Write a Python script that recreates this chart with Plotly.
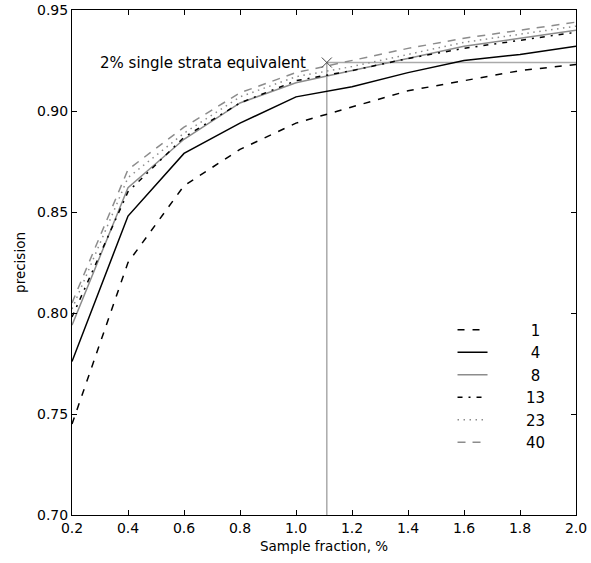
import plotly.graph_objects as go

# sample fractions, %
fraction = [0.2, 0.4, 0.6, 0.8, 1.0, 1.2, 1.4, 1.6, 1.8, 2.0]

# precision per number of strata
strata_1 = [0.745, 0.825, 0.863, 0.881, 0.894, 0.902, 0.910, 0.915, 0.920, 0.923]
strata_4 = [0.776, 0.848, 0.879, 0.894, 0.907, 0.912, 0.919, 0.925, 0.928, 0.932]
strata_8 = [0.794, 0.862, 0.886, 0.904, 0.914, 0.920, 0.926, 0.932, 0.936, 0.940]
strata_13 = [0.798, 0.860, 0.887, 0.904, 0.915, 0.920, 0.926, 0.931, 0.935, 0.939]
strata_23 = [0.802, 0.867, 0.889, 0.907, 0.917, 0.922, 0.928, 0.934, 0.938, 0.942]
strata_40 = [0.805, 0.871, 0.892, 0.909, 0.919, 0.925, 0.931, 0.936, 0.940, 0.944]

# single strata equivalent point
equiv_x = 1.11
equiv_y = 0.924
equiv_text = "2% single strata equivalent"

GRAY = "#8c8c8c"
REF = "#aaaaaa"
FONT = "DejaVu Sans"

series = [
    ("1", strata_1, "black", "7px,8px"),
    ("4", strata_4, "black", "solid"),
    ("8", strata_8, GRAY, "solid"),
    ("13", strata_13, "black", "5px,6px,2px,6px"),
    ("23", strata_23, GRAY, "1.5px,4.5px"),
    ("40", strata_40, GRAY, "8px,7px"),
]

fig = go.Figure()

# reference lines at the equivalent point
fig.add_trace(go.Scatter(
    x=[equiv_x, equiv_x], y=[0.70, equiv_y],
    mode="lines", line=dict(color=REF, width=1.5),
    showlegend=False, hoverinfo="skip"
))
fig.add_trace(go.Scatter(
    x=[equiv_x, fraction[-1]], y=[equiv_y, equiv_y],
    mode="lines", line=dict(color=REF, width=1.5),
    showlegend=False, hoverinfo="skip"
))

# legend labels are pushed right and centred with spaces
pad = "\u2007\u2007\u2007\u2008"
for name, vals, color, dash in series:
    label = pad + (name if len(name) == 2 else "\u2008" + name)
    fig.add_trace(go.Scatter(
        x=fraction, y=vals, mode="lines", name=label,
        line=dict(color=color, width=1.5, dash=dash)
    ))

fig.add_trace(go.Scatter(
    x=[equiv_x], y=[equiv_y], mode="markers",
    marker=dict(symbol="x-thin-open", size=10, color="#444444",
                line=dict(color="#444444", width=1)),
    showlegend=False
))

fig.add_annotation(
    x=equiv_x, y=equiv_y, text=equiv_text, showarrow=False,
    xanchor="right", yanchor="middle", xshift=-19,
    font=dict(family=FONT, size=15, color="black")
)

axis_common = dict(
    showgrid=False, zeroline=False, showline=True, linecolor="black",
    linewidth=1, mirror="ticks", ticks="inside", ticklen=5,
    tickcolor="black", tickfont=dict(family=FONT, size=14, color="black"),
    automargin=False,
)

fig.update_xaxes(
    range=[0.2, 2.0], tickvals=[0.2, 0.4, 0.6, 0.8, 1.0, 1.2, 1.4, 1.6, 1.8, 2.0],
    tickformat=".1f",
    title=dict(text="Sample fraction, %", font=dict(family=FONT, size=13.5, color="black"), standoff=6),
    **axis_common
)
fig.update_yaxes(
    range=[0.70, 0.95], tickvals=[0.70, 0.75, 0.80, 0.85, 0.90, 0.95],
    tickformat=".2f",
    title=dict(text="precision", font=dict(family=FONT, size=13.5, color="black"), standoff=8),
    **axis_common
)

fig.update_layout(
    width=591, height=563,
    margin=dict(l=72, r=15, t=10, b=48),
    paper_bgcolor="white", plot_bgcolor="white",
    font=dict(family=FONT, color="black"),
    legend=dict(
        x=0.755, y=0.399, xanchor="left", yanchor="top",
        bgcolor="rgba(0,0,0,0)", borderwidth=0,
        font=dict(family=FONT, size=15, color="black"),
        itemwidth=30, tracegroupgap=0
    ),
)

fig.write_html("out.html", config={"displayModeBar": False},
               post_script="document.body.style.margin='0';")
